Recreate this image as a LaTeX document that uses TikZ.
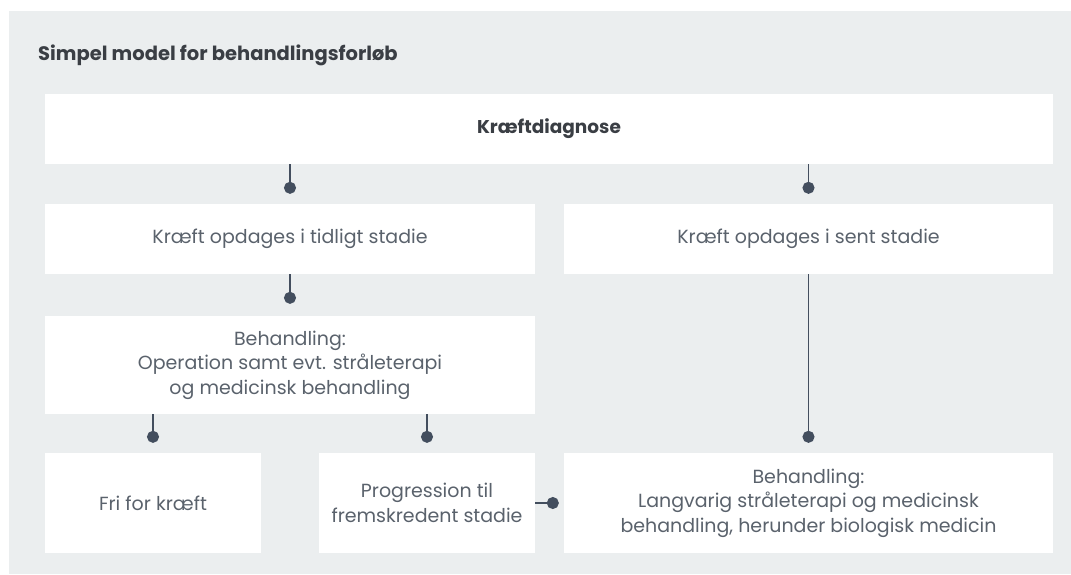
\documentclass[tikz,border=0pt]{standalone}
\usepackage{fontspec}
\setmainfont{Poppins}
\usetikzlibrary{arrows.meta,calc}
\definecolor{panel}{HTML}{EBEEEF}
\definecolor{linec}{HTML}{434E5E}
\definecolor{titlec}{HTML}{3A3E44}
\definecolor{bodyc}{HTML}{5A626C}
\tikzset{
  box/.style={fill=white, draw=none, inner sep=0pt, align=center, text=bodyc,
    font=\fontsize{19}{24.5}\selectfont},
  conn/.style={draw=linec, line width=1.6pt, -{Circle[length=12pt,width=12pt]}},
}
\begin{document}
\begin{tikzpicture}[x=1pt,y=-1pt]
\useasboundingbox (0,0) rectangle (1071,574);
\fill[panel] (9,11) rectangle (1071,574);
\node[anchor=base west, inner sep=0pt, text=titlec, font=\fontsize{19.5}{22}\bfseries] (title) at (38,60) {Simpel model for behandlingsforløb};
\node[box, minimum width=1008pt, minimum height=70pt, text=titlec, font=\fontsize{18.5}{22}\bfseries] (diag) at (549,129) {Kræftdiagnose};
\node[box, minimum width=490pt, minimum height=70pt] (early) at (290,239) {Kræft opdages i tidligt stadie};
\node[box, minimum width=489pt, minimum height=70pt] (late) at (808.5,239) {Kræft opdages i sent stadie};
\node[box, minimum width=490pt, minimum height=98pt] (treat1) at (290,365) {Behandling:\\Operation samt evt. stråleterapi\\og medicinsk behandling};
\node[box, minimum width=216pt, minimum height=100pt] (free) at (153,503) {Fri for kræft};
\node[box, minimum width=216pt, minimum height=100pt] (prog) at (427,503) {Progression til\\fremskredent stadie};
\node[box, minimum width=489pt, minimum height=100pt] (treat2) at (808.5,503) {Behandling:\\Langvarig stråleterapi og medicinsk\\behandling, herunder biologisk medicin};
\draw[conn] (diag.south -| early.north) -- ([yshift=10pt]early.north);
\draw[conn] (diag.south -| late.north) -- ([yshift=10pt]late.north);
\draw[conn] (early.south) -- ([yshift=12pt]treat1.north);
\draw[conn] (treat1.south -| free.north) -- ([yshift=10pt]free.north);
\draw[conn] (treat1.south -| prog.north) -- ([yshift=10pt]prog.north);
\draw[conn] (late.south) -- ([yshift=10pt]treat2.north);
\draw[conn] (prog.east) -- ([xshift=-5pt]treat2.west);
\end{tikzpicture}
\end{document}
